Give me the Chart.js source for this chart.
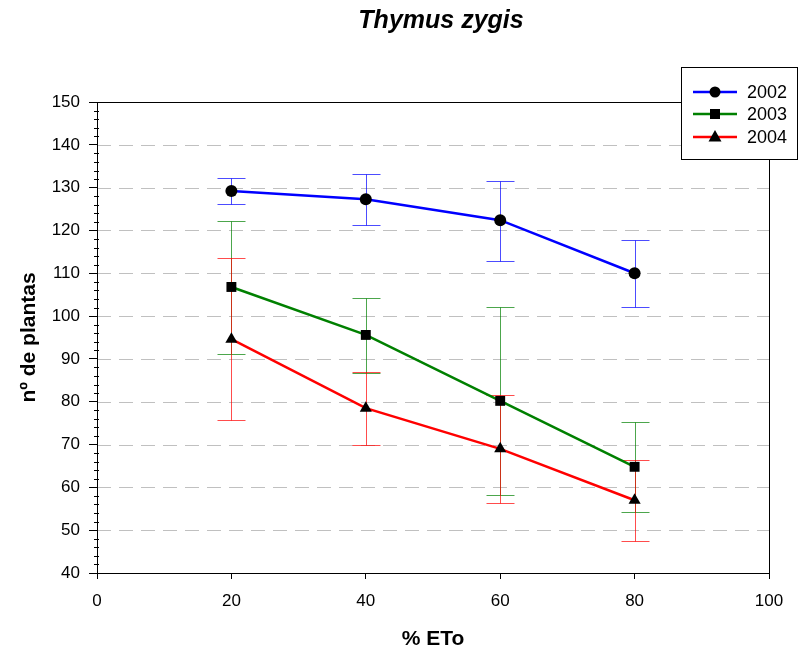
<!DOCTYPE html>
<html>
<head>
<meta charset="utf-8">
<script src="https://cdn.jsdelivr.net/npm/chart.js@4.4.1/dist/chart.umd.min.js"></script>
<style>
  body { margin: 0; background: #fff; }
  #wrap { width: 800px; height: 652px; }
</style>
</head>
<body>
<div id="wrap"><canvas id="myChart" width="800" height="652"></canvas></div>
<script>
const years = ["2002", "2003", "2004"];
const eto = [20, 40, 60, 80];

const mean2002 = [129.2, 127.3, 122.4, 110.0];
const hi2002 = [132.2, 133.2, 131.5, 117.8];
const lo2002 = [126.2, 121.3, 112.9, 102.1];

const mean2003 = [106.8, 95.6, 80.2, 64.8];
const hi2003 = [122.2, 104.2, 102.1, 75.3];
const lo2003 = [91.1, 86.7, 58.2, 54.2];

const mean2004 = [94.6, 78.5, 69.0, 57.0];
const hi2004 = [113.6, 86.9, 81.6, 66.4];
const lo2004 = [75.7, 69.9, 56.3, 47.5];

const colors = ["#0000ff", "#008000", "#ff0000"];
const errColors = ["rgba(0,0,255,0.7)", "rgba(0,128,0,0.7)", "rgba(255,0,0,0.7)"];
const shapes = ["circle", "rect", "triangle"];
const radii = [6, 7, 7];
const means = [mean2002, mean2003, mean2004];
const highs = [hi2002, hi2003, hi2004];
const lows = [lo2002, lo2003, lo2004];

const FONT = "'Liberation Sans', Arial, sans-serif";

function pts(arr) {
  return arr.map((v, i) => ({ x: eto[i], y: v }));
}

// dashed grid, minor ticks, frame and error bars
const behind = {
  id: "behind",
  beforeDatasetsDraw(chart) {
    const c = chart.ctx;
    const xs = chart.scales.x, ys = chart.scales.y;
    const a = chart.chartArea;
    c.save();
    c.strokeStyle = "#c0c0c0";
    c.lineWidth = 1;
    c.setLineDash([14, 8]);
    for (let v = 50; v <= 140; v += 10) {
      const y = Math.round(ys.getPixelForValue(v)) + 0.5;
      c.beginPath(); c.moveTo(a.left, y); c.lineTo(a.right, y); c.stroke();
    }
    c.setLineDash([]);
    c.strokeStyle = "#000";
    for (let v = 40; v <= 150; v += 2) {
      if (v % 10 === 0) continue;
      const y = Math.round(ys.getPixelForValue(v)) + 0.5;
      c.beginPath(); c.moveTo(a.left - 3, y); c.lineTo(a.left + 2, y); c.stroke();
    }
    c.strokeRect(Math.round(a.left) + 0.5, Math.round(a.top) + 0.5,
      Math.round(a.right - a.left), Math.round(a.bottom - a.top));
    // error bars
    means.forEach((m, s) => {
      c.strokeStyle = errColors[s];
      c.lineWidth = 1;
      m.forEach((v, i) => {
        const x = Math.round(xs.getPixelForValue(eto[i])) + 0.5;
        const yh = Math.round(ys.getPixelForValue(highs[s][i])) + 0.5;
        const yl = Math.round(ys.getPixelForValue(lows[s][i])) + 0.5;
        c.beginPath();
        c.moveTo(x, yh); c.lineTo(x, yl);
        c.moveTo(x - 14, yh); c.lineTo(x + 14, yh);
        c.moveTo(x - 14, yl); c.lineTo(x + 14, yl);
        c.stroke();
      });
    });
    c.restore();
  },
  afterDraw(chart) {
    const c = chart.ctx;
    c.save();
    // title
    c.fillStyle = "#000";
    c.font = "bold italic 25px " + FONT;
    c.textAlign = "center";
    c.textBaseline = "middle";
    c.fillText("Thymus zygis", 441, 21);
    // legend
    c.fillStyle = "#fff";
    c.fillRect(681, 67, 117, 93);
    c.strokeStyle = "#000";
    c.lineWidth = 1;
    c.strokeRect(681.5, 67.5, 116, 92);
    const ly = [92, 114, 137];
    years.forEach((yr, s) => {
      c.strokeStyle = colors[s];
      c.lineWidth = 2.5;
      c.beginPath(); c.moveTo(693, ly[s]); c.lineTo(737, ly[s]); c.stroke();
      c.fillStyle = "#000";
      c.beginPath();
      if (s === 0) c.arc(715, ly[s], 5.5, 0, Math.PI * 2);
      else if (s === 1) c.rect(710, ly[s] - 5, 10, 10);
      else { c.moveTo(715, ly[s] - 7); c.lineTo(721.5, ly[s] + 4.5); c.lineTo(708.5, ly[s] + 4.5); c.closePath(); }
      c.fill();
      c.font = "18px " + FONT;
      c.textAlign = "left";
      c.fillText(yr, 747, ly[s] + 1);
    });
    c.restore();
  }
};

const ctx = document.getElementById("myChart");
new Chart(ctx, {
  type: "line",
  data: {
    datasets: means.map((m, s) => ({
      label: years[s],
      data: pts(m),
      borderColor: colors[s],
      backgroundColor: "#000",
      pointBackgroundColor: "#000",
      pointBorderColor: "#000",
      pointBorderWidth: 0,
      pointStyle: shapes[s],
      pointRadius: radii[s],
      borderWidth: 2.5,
      tension: 0,
    })),
  },
  options: {
    responsive: false,
    animation: false,
    layout: { padding: { top: 102, right: 31, left: 0, bottom: 0 } },
    plugins: {
      legend: { display: false },
      tooltip: { enabled: false },
    },
    scales: {
      x: {
        type: "linear",
        min: 0,
        max: 100,
        ticks: { stepSize: 20, color: "#000", padding: 12, font: { family: FONT, size: 17 } },
        grid: { drawOnChartArea: false, tickLength: 6, color: "#000" },
        border: { color: "#000", width: 1 },
        title: {
          display: true,
          text: "% ETo",
          color: "#000",
          font: { family: FONT, size: 21, weight: "bold" },
          padding: { top: 0, bottom: 0 },
        },
        afterFit(scale) { scale.height = 79; },
      },
      y: {
        min: 40,
        max: 150,
        ticks: { stepSize: 10, color: "#000", padding: 9, font: { family: FONT, size: 17 } },
        grid: { drawOnChartArea: false, tickLength: 8, color: "#000" },
        border: { color: "#000", width: 1 },
        title: {
          display: true,
          text: "nº de plantas",
          color: "#000",
          font: { family: FONT, size: 21, weight: "bold" },
          padding: { top: 17, bottom: 0 },
        },
        afterFit(scale) { scale.width = 97; },
      },
    },
  },
  plugins: [behind],
});
</script>
</body>
</html>
